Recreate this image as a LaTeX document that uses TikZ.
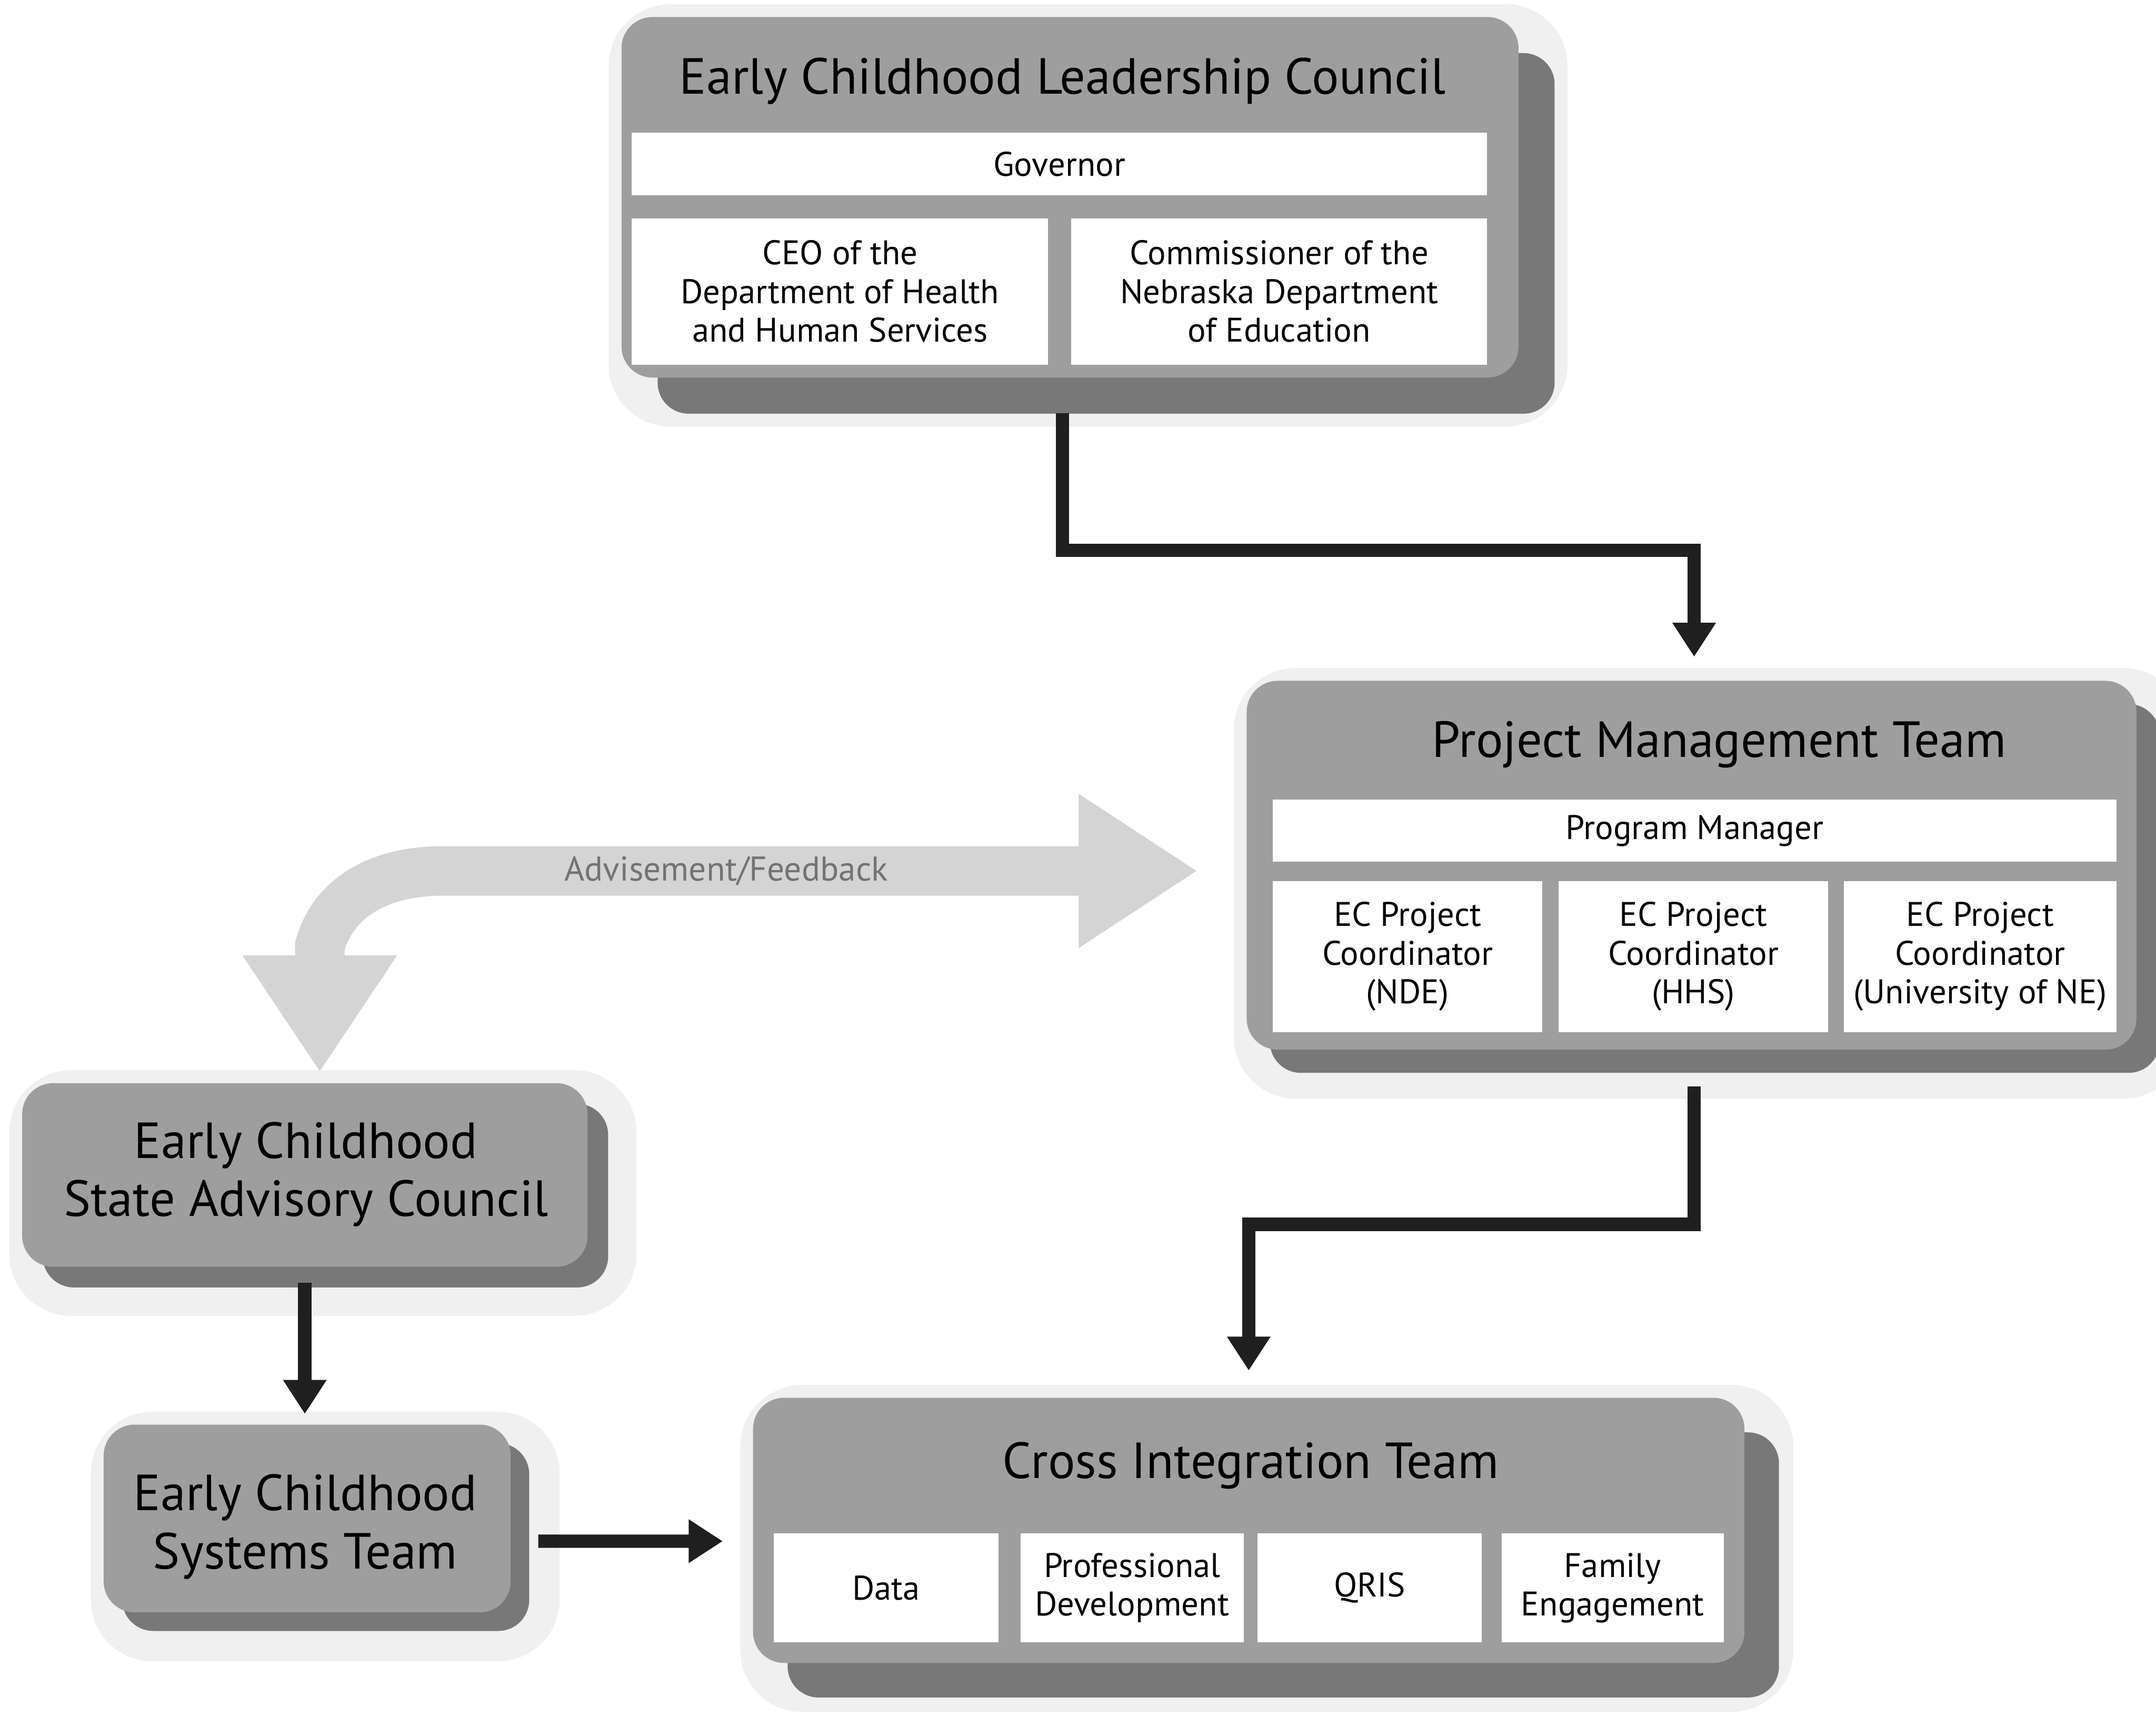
\documentclass[tikz,border=0pt]{standalone}
\usepackage{fontspec}
\setmainfont{PT Sans}
\usepackage{tikz}
\usetikzlibrary{arrows.meta,shadows}
\definecolor{panelgray}{gray}{0.62}
\definecolor{shadowgray}{gray}{0.47}
\definecolor{halogray}{gray}{0.94}
\definecolor{feedgray}{gray}{0.83}
\definecolor{feedtext}{gray}{0.45}
\definecolor{arrowblack}{gray}{0.12}

\begin{document}
\begin{tikzpicture}[
    panel/.style={rounded corners=6mm, fill=panelgray, inner sep=0pt,
        general shadow={fill=halogray, draw=halogray, line width=12mm,
            shadow xshift=3.5mm, shadow yshift=-3.5mm},
        general shadow={fill=shadowgray, shadow xshift=#1, shadow yshift=-#1}},
    panel/.default=6.5mm,
    heading/.style={font=\fontsize{28}{32}\selectfont, anchor=base},
    cell/.style={fill=white, inner sep=0pt, align=center,
        font=\fontsize{18.8}{21.3}\selectfont},
    flow/.style={line width=2.6mm, draw=arrowblack,
        -{Triangle[length=6.6mm,width=8mm]}},
    feedback/.style={line width=9.6mm, draw=feedgray,
        {Triangle[length=22.7mm,width=28.3mm]}-{Triangle[length=23.1mm,width=28.2mm]}}
]
    \useasboundingbox (0,0) rectangle (41.8,-33.48);

    % leadership council
    \node[panel=7mm, minimum width=17.39cm, minimum height=6.99cm] (eclc) at (20.745,-3.825) {};
    \node[heading] (eclctitle) at (20.6,-1.82) {Early Childhood Leadership Council};
    \node[cell, minimum width=16.58cm, minimum height=1.22cm] (gov) at (20.54,-3.18) {Governor};
    \node[cell, minimum width=8.07cm, minimum height=2.84cm] (ceo) at (16.285,-5.65)
        {CEO of the\\Department of Health\\and Human Services};
    \node[cell, minimum width=8.06cm, minimum height=2.84cm] (comm) at (24.80,-5.65)
        {Commissioner of the\\Nebraska Department\\of Education};

    % project management team
    \node[panel=4.5mm, minimum width=17.25cm, minimum height=7.15cm] (pmt) at (32.795,-16.775) {};
    \node[heading] (pmttitle) at (33.33,-14.68) {Project Management Team};
    \node[cell, minimum width=16.35cm, minimum height=1.21cm] (pm) at (32.855,-16.105) {Program Manager};
    \node[cell, minimum width=5.22cm, minimum height=2.93cm] (nde) at (27.29,-18.545)
        {EC Project\\Coordinator\\(NDE)};
    \node[cell, minimum width=5.22cm, minimum height=2.93cm] (hhs) at (32.83,-18.545)
        {EC Project\\Coordinator\\(HHS)};
    \node[cell, minimum width=5.28cm, minimum height=2.93cm] (une) at (38.39,-18.545)
        {EC Project\\Coordinator\\(University of NE)};

    % cross integration team
    \node[panel=6.7mm, minimum width=19.22cm, minimum height=5.14cm] (cit) at (24.21,-29.67) {};
    \node[heading] (cittitle) at (24.25,-28.66) {Cross Integration Team};
    \node[cell, minimum width=4.36cm, minimum height=2.11cm] (data) at (17.18,-30.785) {Data};
    \node[cell, minimum width=4.32cm, minimum height=2.11cm] (prof) at (21.95,-30.785)
        {Professional\\Development};
    \node[cell, minimum width=4.35cm, minimum height=2.11cm] (qris) at (26.555,-30.785) {QRIS};
    \node[cell, minimum width=4.31cm, minimum height=2.11cm] (fam) at (31.265,-30.785)
        {Family\\Engagement};

    % advisory council and systems team
    \node[panel=4mm, minimum width=10.96cm, minimum height=3.56cm] (sac) at (5.91,-22.78) {};
    \node[heading, anchor=center, align=center] (sactitle) at (5.93,-22.77)
        {Early Childhood\\State Advisory Council};
    \node[panel=3.6mm, minimum width=7.89cm, minimum height=3.64cm] (est) at (5.955,-29.44) {};
    \node[heading, anchor=center, align=center] (esttitle) at (5.92,-29.60)
        {Early Childhood\\Systems Team};

    % connectors
    \draw[feedback] ([xshift=2.9mm,yshift=2mm]sac.north) -- ++(0,2.45)
        .. controls +(0.25,0.9) and +(-1.3,0) .. ([xshift=-155.7mm,yshift=-1.1mm]pmt.west)
        -- node[pos=0.375, text=feedtext, font=\fontsize{19}{22}\selectfont] {Advisement/Feedback}
        ([xshift=-9.4mm,yshift=-1.1mm]pmt.west);
    \draw[flow] ([xshift=-1.45mm,yshift=-6.8mm]eclc.south) -- ++(0,-2.66)
        -| ([xshift=0.5mm,yshift=4.6mm]pmt.north);
    \draw[flow] ([xshift=0.5mm,yshift=-7.1mm]pmt.south) -- ++(0,-2.67)
        -| ([yshift=5.2mm]cit.north);
    \draw[flow] ([yshift=-3mm]sac.south) -- ([yshift=2mm]sac.south |- est.north);
    \draw[flow] ([xshift=5.3mm,yshift=-4.4mm]est.east) -- ([xshift=-5.8mm,yshift=-2.1mm]cit.west);
\end{tikzpicture}
\end{document}
